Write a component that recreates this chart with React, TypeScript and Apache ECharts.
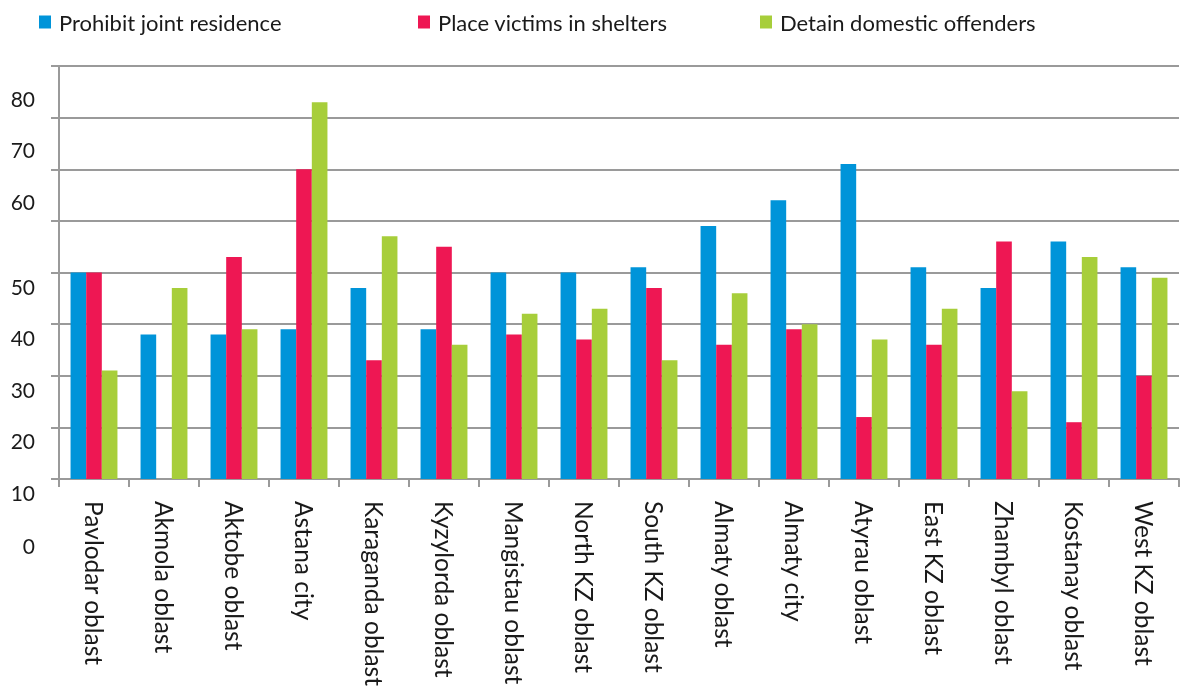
import React, { useEffect, useRef } from "react";
import * as echarts from "echarts";

const categories = [
  "Pavlodar oblast", "Akmola oblast", "Aktobe oblast", "Astana city",
  "Karaganda oblast", "Kyzylorda oblast", "Mangistau oblast", "North KZ oblast",
  "South KZ oblast", "Almaty oblast", "Almaty city", "Atyrau oblast",
  "East KZ oblast", "Zhambyl oblast", "Kostanay oblast", "West KZ oblast",
];
const seriesNames = ["Prohibit joint residence", "Place victims in shelters", "Detain domestic offenders"];
const prohibitJointResidence = [50, 38, 38, 39, 47, 39, 50, 50, 51, 59, 64, 71, 51, 47, 56, 51];
const placeVictimsInShelters = [50, null, 53, 70, 33, 55, 38, 37, 47, 36, 39, 22, 36, 56, 21, 30];
const detainDomesticOffenders = [31, 47, 39, 83, 57, 36, 42, 43, 33, 46, 40, 37, 43, 27, 53, 49];
const yTickLabels = ["0", "10", "20", "30", "40", "50", "60", "70", "80"];

const colors = ["#0094d9", "#ee1753", "#a7ce3a"];
const FONT = "Lato";

export default function App() {
  const ref = useRef<HTMLDivElement>(null);
  useEffect(() => {
    if (!ref.current) return;
    const chart = echarts.init(ref.current, null, { renderer: "svg" });
    const legendLefts = [34, 413, 755];
    const data = [prohibitJointResidence, placeVictimsInShelters, detainDomesticOffenders];
    chart.setOption({
      animation: false,
      color: colors,
      textStyle: { fontFamily: FONT },
      legend: seriesNames.map((n, i) => ({
        data: [n],
        left: legendLefts[i],
        top: 6,
        icon: "rect",
        itemWidth: 12,
        itemHeight: 13,
        itemGap: 0,
        textStyle: { fontFamily: FONT, fontSize: 22, color: "#1a1a1a", padding: [0, 0, 0, 3] },
      })),
      grid: { left: 59, right: 3, top: 66, bottom: 211, containLabel: false },
      xAxis: {
        type: "category",
        data: categories,
        axisLine: { lineStyle: { color: "#9a9a9a", width: 2 } },
        axisTick: { show: true, length: 8, lineStyle: { color: "#9a9a9a", width: 2 } },
        axisLabel: {
          interval: 0,
          rotate: -90,
          margin: 22,
          fontFamily: FONT,
          fontSize: 24.5,
          color: "#1a1a1a",
        },
      },
      yAxis: {
        type: "value",
        min: 10,
        max: 90,
        interval: 10,
        axisLine: { show: true, lineStyle: { color: "#9a9a9a", width: 2 } },
        axisTick: { show: true, length: 8, lineStyle: { color: "#9a9a9a", width: 2 } },
        splitLine: { lineStyle: { color: "#9a9a9a", width: 2 } },
        axisLabel: {
          margin: 24,
          formatter: (v: number) => {
            const s = String(v);
            if (!yTickLabels.includes(s)) return "";
            return v >= 60 ? `{up|${s}}` : `{dn|${s}}`;
          },
          rich: {
            up: { fontFamily: FONT, fontSize: 21, color: "#1a1a1a", padding: [0, 0, 39, 0] },
            dn: { fontFamily: FONT, fontSize: 21, color: "#1a1a1a", padding: [27, 0, 0, 0] },
          },
        },
      },
      graphic: [
        {
          type: "text",
          x: 35,
          y: 545,
          style: {
            text: yTickLabels[0],
            fontFamily: FONT,
            fontSize: 21,
            fill: "#1a1a1a",
            textAlign: "right",
            textVerticalAlign: "middle",
          },
        },
      ],
      series: seriesNames.map((n, i) => ({
        name: n,
        type: "bar",
        data: data[i],
        barGap: "0%",
        barCategoryGap: "33%",
        itemStyle: { color: colors[i] },
      })),
    });
    return () => chart.dispose();
  }, []);
  return <div ref={ref} style={{ position: "fixed", left: 0, top: 0, width: 1182, height: 690 }} />;
}
